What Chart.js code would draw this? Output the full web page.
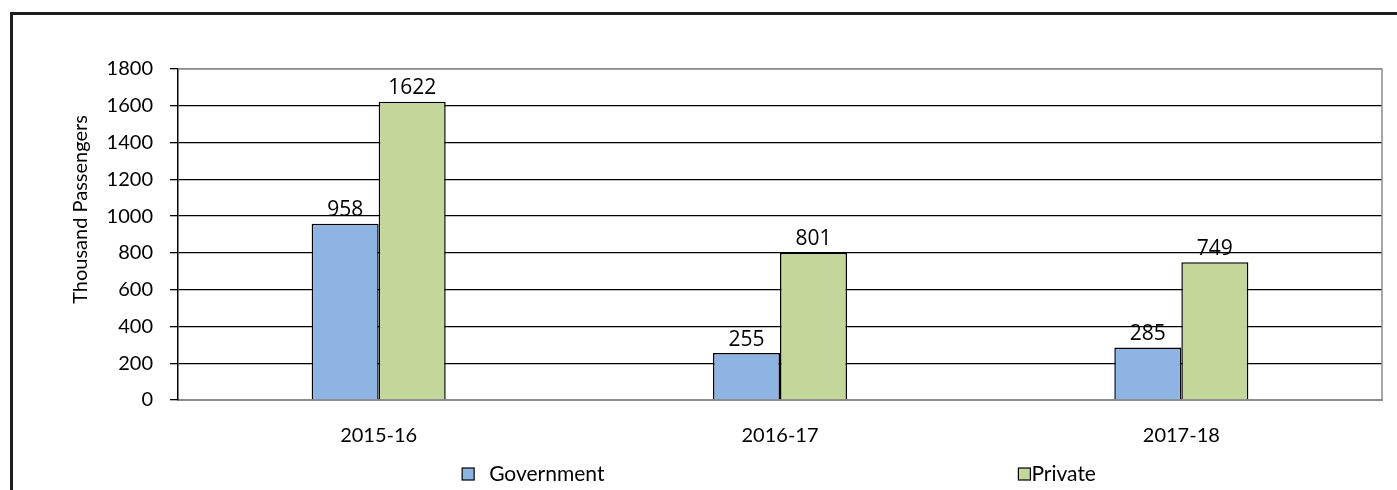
<!DOCTYPE html>
<html>
<head>
<meta charset="utf-8">
<script src="https://cdn.jsdelivr.net/npm/chart.js@4.4.1/dist/chart.umd.min.js"></script>
<style>
  html, body { margin: 0; padding: 0; background: #ffffff; overflow: hidden; }
  #wrap { position: relative; width: 1397px; height: 490px; }
  #frame { position: absolute; left: 10px; top: 12px; width: 1500px; height: 600px;
           border-left: 3px solid #1e1e1e; border-top: 3px solid #1e1e1e; box-sizing: border-box; }
  canvas { position: absolute; left: 0; top: 0; }
</style>
</head>
<body>
<div id="wrap">
  <div id="frame"></div>
  <canvas id="c" width="1397" height="490"></canvas>
</div>
<script>
const categories = ['2015-16', '2016-17', '2017-18'];
const governmentValues = [958, 255, 285];
const privateValues = [1622, 801, 749];
const seriesNames = ['Government', 'Private'];
const yTicks = [0, 200, 400, 600, 800, 1000, 1200, 1400, 1600, 1800];
const yTitle = 'Thousand Passengers';

const tickFont = { family: 'Lato, "Open Sans", sans-serif', size: 20 };

const valueLabels = {
  id: 'valueLabels',
  afterDatasetsDraw(chart) {
    const ctx = chart.ctx;
    ctx.save();
    ctx.fillStyle = '#000';
    ctx.font = '21px "Open Sans", Lato, sans-serif';
    ctx.textAlign = 'center';
    ctx.textBaseline = 'bottom';
    chart.data.datasets.forEach((ds, di) => {
      chart.getDatasetMeta(di).data.forEach((bar, i) => {
        ctx.fillText(String(ds.data[i]), bar.x, bar.y - 3);
      });
    });
    ctx.restore();
  }
};

const plotFrame = {
  id: 'plotFrame',
  beforeDatasetsDraw(chart) {
    const a = chart.chartArea, ctx = chart.ctx;
    ctx.save();
    ctx.strokeStyle = '#8c8c8c';
    ctx.lineWidth = 1.5;
    ctx.beginPath();
    ctx.moveTo(a.left, a.top);
    ctx.lineTo(a.right, a.top);
    ctx.lineTo(a.right, a.bottom);
    ctx.stroke();
    ctx.restore();
  }
};

const yTitlePlugin = {
  id: 'yTitlePlugin',
  afterDraw(chart) {
    const ctx = chart.ctx, a = chart.chartArea;
    ctx.save();
    ctx.translate(81, (a.top + a.bottom) / 2 - 25);
    ctx.rotate(-Math.PI / 2);
    ctx.font = '20px Lato, "Open Sans", sans-serif';
    ctx.fillStyle = '#000';
    ctx.textAlign = 'center';
    ctx.textBaseline = 'middle';
    ctx.fillText(yTitle, 0, 0);
    ctx.restore();
  }
};

const spreadLegend = {
  id: 'spreadLegend',
  afterDraw(chart) {
    const ctx = chart.ctx, a = chart.chartArea;
    const w = a.right - a.left;
    const starts = [a.left + w * 0.236, a.left + w * 0.698];
    const gaps = [15, 1];
    const y = 474;
    ctx.save();
    ctx.font = '21px Lato, "Open Sans", sans-serif';
    ctx.textBaseline = 'middle';
    ctx.textAlign = 'left';
    chart.data.datasets.forEach((ds, i) => {
      const x = starts[i];
      ctx.fillStyle = ds.backgroundColor;
      ctx.fillRect(x, y - 6, 12, 12);
      ctx.strokeStyle = '#000';
      ctx.lineWidth = 1.2;
      ctx.strokeRect(x, y - 6, 12, 12);
      ctx.fillStyle = '#000';
      ctx.fillText(ds.label, x + 12 + gaps[i], y);
    });
    ctx.restore();
  }
};

new Chart(document.getElementById('c'), {
  type: 'bar',
  data: {
    labels: categories,
    datasets: [
      { label: seriesNames[0], data: governmentValues, backgroundColor: '#8eb4e3',
        borderColor: '#000', borderWidth: 1.5, categoryPercentage: 0.334, barPercentage: 1 },
      { label: seriesNames[1], data: privateValues, backgroundColor: '#c4d79b',
        borderColor: '#000', borderWidth: 1.5, categoryPercentage: 0.334, barPercentage: 1 }
    ]
  },
  options: {
    responsive: false,
    animation: false,
    devicePixelRatio: 1,
    layout: { padding: { top: 69, right: 15, left: 0, bottom: 0 } },
    plugins: { legend: { display: false }, tooltip: { enabled: false }, title: { display: false } },
    scales: {
      x: {
        grid: { display: false, drawTicks: false },
        border: { display: true, color: '#8c8c8c', width: 2 },
        ticks: { color: '#000', font: tickFont, padding: 24 },
        afterFit(s) { s.height = 90; }
      },
      y: {
        min: 0, max: 1800,
        afterBuildTicks(s) { s.ticks = yTicks.map(v => ({ value: v })); },
        grid: {
          color: ctx => (ctx.tick && (ctx.tick.value === 0 || ctx.tick.value === 1800)) ? '#8c8c8c' : '#000',
          lineWidth: 1.3,
          tickLength: 8,
          tickColor: '#000'
        },
        border: { display: true, color: '#000', width: 1.5 },
        ticks: { color: '#000', font: tickFont, padding: 17, callback: v => String(v) },
        title: { display: false },
        afterFit(s) { s.width = 178; }
      }
    }
  },
  plugins: [plotFrame, valueLabels, yTitlePlugin, spreadLegend]
});
</script>
</body>
</html>
